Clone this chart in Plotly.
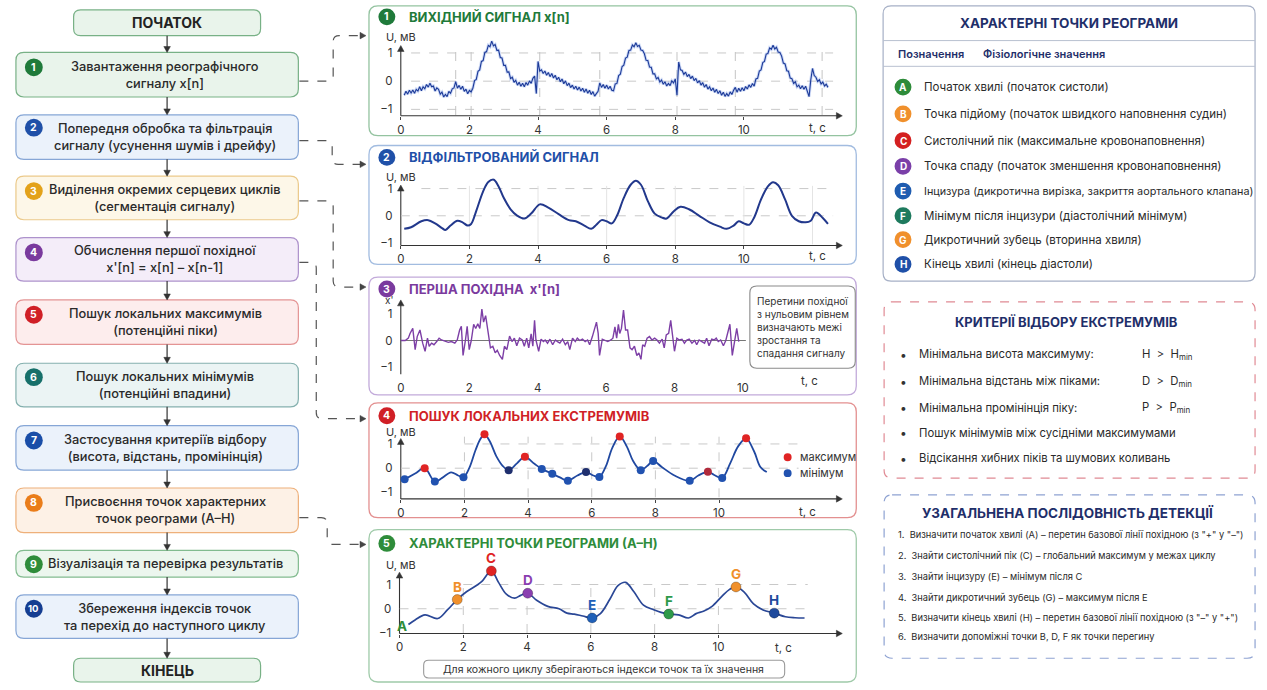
import numpy as np
import plotly.graph_objects as go

FONT = "Inter, Roboto, 'Noto Sans', sans-serif"
W, H = 1267, 690

# ---------------- data ----------------
# raw rheogram x[n], sampled at 20 Hz starting at 0.10 s
raw_start = 0.10
raw_fs = 20
x_raw = [
    -0.50, -0.36, -0.46, -0.32, -0.42, -0.31, -0.43, -0.29, -0.35, -0.20, -0.34, -0.20, -0.27, -0.12, -0.21, -0.07, -0.20, -0.17, -0.35, -0.24,
    -0.29, -0.46, -0.39, -0.56, -0.47, -0.55, -0.36, -0.43, -0.27, -0.24, -0.02, -0.25, -0.15, -0.29, -0.18, -0.36, -0.28, -0.45, -0.33, -0.38,
    -0.25, 0.02, 0.06, 0.35, 0.40, 0.70, 0.73, 1.02, 1.05, 1.27, 1.22, 1.42, 1.25, 1.30, 1.09, 1.10, 0.84, 0.82, 0.56, 0.56,
    0.32, 0.33, 0.09, 0.14, -0.04, 0.03, -0.14, -0.04, -0.18, -0.07, -0.20, -0.05, -0.14, 0.01, -0.08, 0.10, 0.18, -0.44, 0.70, 0.36,
    0.40, 0.27, 0.36, 0.21, 0.31, 0.16, 0.27, 0.11, 0.21, 0.05, 0.14, -0.02, 0.08, -0.09, 0.01, -0.16, -0.07, -0.23, -0.14, -0.28,
    -0.18, -0.31, -0.21, -0.35, -0.25, -0.39, -0.28, -0.43, -0.32, -0.47, -0.37, -0.53, -0.44, -0.36, -0.06, -0.22, -0.12, -0.25, -0.14, -0.28,
    -0.18, -0.32, -0.34, -0.10, -0.08, 0.20, 0.25, 0.52, 0.57, 0.82, 0.85, 1.09, 1.10, 1.28, 1.22, 1.36, 1.23, 1.27, 1.10, 1.09,
    0.97, 0.74, 0.73, 0.50, 0.49, 0.26, 0.26, 0.08, 0.13, -0.03, 0.04, -0.11, -0.02, -0.17, -0.08, -0.16, 0.01, -0.06, 0.08, -0.50,
    0.68, 0.40, 0.38, 0.24, 0.32, 0.16, 0.24, 0.09, 0.18, 0.02, 0.10, -0.06, 0.02, -0.14, -0.05, -0.21, -0.12, -0.28, -0.20, -0.34,
    -0.24, -0.39, -0.29, -0.44, -0.34, -0.50, -0.39, -0.54, -0.44, -0.53, -0.38, -0.47, -0.32, -0.22, -0.39, -0.25, -0.36, -0.23, -0.34, -0.19,
    -0.28, -0.13, -0.22, -0.08, -0.18, 0.08, 0.10, 0.36, 0.40, 0.66, 0.70, 0.96, 0.98, 1.18, 1.13, 1.27, 1.14, 1.20, 1.03, 1.02,
    0.89, 0.64, 0.61, 0.37, 0.35, 0.11, 0.09, -0.08, -0.02, -0.20, -0.14, -0.27, -0.16, -0.29, -0.18, -0.36, -0.55, 0.05, 0.45, 0.20,
    0.14, -0.01, 0.05, -0.10, -0.03, -0.17, -0.11, -0.22,
]
# segment boundary marks on the raw signal, s
raw_marks = [1.6, 2.05, 4.05, 5.8, 8.05, 9.75, 12.28]

# filtered signal
t_filt = [0.1, 0.3, 0.6, 0.8, 1.0, 1.2, 1.3, 1.45, 1.65, 1.8, 1.95, 2.05, 2.2, 2.4, 2.55, 2.7, 2.85, 3.0, 3.2, 3.4,
          3.6, 3.8, 4.05, 4.3, 4.6, 4.9, 5.1, 5.35, 5.55, 5.7, 5.85, 6.0, 6.15, 6.3, 6.5, 6.7, 6.85, 7.0, 7.2, 7.4,
          7.6, 7.75, 7.95, 8.15, 8.4, 8.7, 9.0, 9.3, 9.5, 9.7, 9.85, 10.0, 10.15, 10.3, 10.5, 10.7, 10.85, 11.0, 11.2, 11.4,
          11.6, 11.8, 11.95, 12.1, 12.3, 12.45]
u_filt = [-0.48, -0.42, -0.2, -0.16, -0.28, -0.45, -0.52, -0.36, -0.18, -0.24, -0.36, -0.3, 0.18, 0.9, 1.24, 1.33, 1.08, 0.66, 0.24, 0.0,
          -0.1, 0.08, 0.42, 0.3, 0.06, -0.16, -0.2, -0.36, -0.48, -0.33, -0.16, -0.2, -0.28, 0.0, 0.66, 1.14, 1.29, 1.14, 0.54, 0.08,
          -0.06, -0.1, 0.16, 0.33, 0.24, 0.0, -0.24, -0.4, -0.48, -0.36, -0.2, -0.28, -0.33, -0.06, 0.6, 1.08, 1.23, 1.12, 0.6, 0.0,
          -0.2, -0.24, -0.18, 0.12, -0.08, -0.3]

# first derivative x'[n]
t_der = [0.00, 0.13, 0.22, 0.27, 0.35, 0.42, 0.48, 0.56, 0.64, 0.71, 0.78, 0.83, 0.90, 0.97, 1.05, 1.12, 1.19, 1.29, 1.39, 1.48,
         1.58, 1.65, 1.72, 1.77, 1.82, 1.89, 1.94, 2.00, 2.06, 2.13, 2.19, 2.25, 2.31, 2.37, 2.42, 2.48, 2.55, 2.62, 2.69, 2.76,
         2.82, 2.89, 2.97, 3.03, 3.10, 3.18, 3.25, 3.32, 3.39, 3.47, 3.55, 3.61, 3.68, 3.74, 3.81, 3.86, 3.91, 3.95, 4.03, 4.10,
         4.17, 4.22, 4.29, 4.36, 4.44, 4.52, 4.58, 4.65, 4.73, 4.81, 4.88, 4.94, 5.02, 5.10, 5.16, 5.23, 5.31, 5.39, 5.46, 5.52,
         5.60, 5.66, 5.72, 5.77, 5.81, 5.89, 5.97, 6.05, 6.14, 6.20, 6.26, 6.31, 6.36, 6.40, 6.45, 6.51, 6.57, 6.63, 6.70, 6.76,
         6.83, 6.90, 6.96, 7.02, 7.07, 7.13, 7.20, 7.27, 7.34, 7.42, 7.49, 7.56, 7.64, 7.70, 7.76, 7.83, 7.89, 7.95, 8.00, 8.07,
         8.14, 8.22, 8.29, 8.36, 8.43, 8.51, 8.59, 8.65, 8.72, 8.80, 8.88, 8.94, 9.01, 9.09, 9.16, 9.22, 9.28, 9.35, 9.43, 9.50,
         9.55, 9.62, 9.69, 9.75, 9.82, 9.88]
d_der = [0.0, 0.0, 0.09, 0.27, 0.46, -0.35, 0.15, 0.4, -0.1, -0.41, 0.09, -0.22, -0.1, -0.16, -0.04, 0.09, 0.02, -0.04, -0.07, -0.04,
         -0.1, 0.02, 0.4, 0.54, -0.57, 0.02, 0.54, -0.35, 0.0, 0.62, 0.46, 0.64, 0.46, 1.2, 0.7, 0.95, 0.4, -0.28, -0.22, -0.47,
         -0.37, -0.57, -0.72, -0.22, -0.35, 0.17, -0.04, 0.09, -0.2, 0.09, 0.02, -0.22, 0.09, -0.28, 0.25, -0.22, 0.77, 0.02, -0.41, 0.05,
         -0.04, 0.02, -0.1, 0.05, -0.16, 0.02, -0.04, -0.1, 0.05, -0.16, -0.04, -0.35, 0.09, -0.04, 0.09, 0.0, 0.05, -0.04, 0.02, -0.16,
         0.15, 0.46, 0.7, 0.27, -0.57, 0.05, 0.0, -0.04, 0.02, 0.09, 0.52, 0.09, 0.62, 0.27, 0.46, 1.16, 0.4, 0.4, -0.28, -0.35,
         -0.22, -0.57, -0.47, -0.72, -0.16, -0.22, 0.09, 0.15, 0.02, 0.09, 0.02, -0.1, 0.05, -0.28, 0.21, 0.27, 0.77, 0.02, -0.41, 0.09,
         0.02, 0.05, -0.1, 0.02, 0.05, -0.1, 0.0, -0.16, 0.02, -0.04, -0.1, 0.09, -0.2, 0.05, 0.02, 0.09, -0.04, 0.02, -0.2, 0.0,
         0.27, 0.62, -0.57, -0.1, 0.46, -0.04]

# signal used for extremum search
t_ext = [0.12, 0.45, 0.75, 1.07, 1.3, 1.58, 1.8, 1.97, 2.15, 2.35, 2.5, 2.63, 2.8, 3.0, 3.2, 3.39, 3.65, 3.9, 4.2, 4.43,
         4.76, 5.0, 5.25, 5.55, 5.82, 6.05, 6.24, 6.45, 6.65, 6.88, 7.1, 7.3, 7.54, 7.75, 7.93, 8.2, 8.6, 9.08, 9.35, 9.65,
         9.85, 10.1, 10.35, 10.6, 10.85, 11.1, 11.3, 11.5]
u_ext = [-0.46, -0.22, 0.0, -0.55, -0.4, -0.17, -0.3, -0.37, 0.0, 0.75, 1.2, 1.4, 1.1, 0.5, 0.1, -0.08, 0.2, 0.47, 0.18, -0.03,
         -0.23, -0.38, -0.52, -0.3, -0.16, -0.3, -0.36, 0.1, 0.85, 1.31, 0.9, 0.3, -0.08, 0.1, 0.3, 0.05, -0.3, -0.52, -0.3, -0.15,
         -0.28, -0.4, 0.2, 0.9, 1.23, 0.7, 0.05, -0.16]
max_idx = [2, 11, 17, 29, 39, 44]
min_idx = [0, 3, 7, 15, 19, 20, 22, 24, 26, 32, 34, 37, 41]

# rheogram with characteristic points A-H
t_rheo = [0.28, 0.5, 0.8, 1.2, 1.5, 1.81, 2.1, 2.46, 2.6, 2.88, 3.1, 3.35, 3.61, 3.8, 4.02, 4.3, 4.65, 5.0, 5.25, 5.48,
          5.75, 6.04, 6.3, 6.6, 6.85, 7.09, 7.35, 7.65, 7.97, 8.2, 8.44, 8.75, 9.06, 9.3, 9.53, 9.8, 10.1, 10.35, 10.55, 10.8,
          11.1, 11.4, 11.75, 12.1, 12.4, 12.7]
u_rheo = [-0.65, -0.45, -0.25, -0.4, -0.05, 0.38, 0.7, 1.0, 1.15, 1.56, 1.1, 0.6, 0.44, 0.55, 0.64, 0.35, 0.1, 0.0, -0.18, -0.22,
          -0.3, -0.38, -0.2, 0.4, 0.95, 1.09, 0.7, 0.15, -0.04, -0.15, -0.22, -0.25, -0.38, -0.2, -0.1, 0.1, 0.5, 0.8, 0.9, 0.7,
          0.2, -0.05, -0.18, -0.33, -0.37, -0.38]
point_letters = ["A", "B", "C", "D", "E", "F", "G", "H"]
point_idx = [0, 5, 9, 14, 21, 30, 38, 42]

time_ticks = [0, 2, 4, 6, 8, 10]
amp_ticks = [-1, 0, 1]
amp_labels = ["−1", "0", "1"]

flow_start = "ПОЧАТОК"
flow_end = "КІНЕЦЬ"
flow_steps = [
    "Завантаження реографічного<br>сигналу x[n]",
    "Попередня обробка та фільтрація<br>сигналу (усунення шумів і дрейфу)",
    "Виділення окремих серцевих циклів<br>(сегментація сигналу)",
    "Обчислення першої похідної<br>x'[n] = x[n] – x[n-1]",
    "Пошук локальних максимумів<br>(потенційні піки)",
    "Пошук локальних мінімумів<br>(потенційні впадини)",
    "Застосування критеріїв відбору<br>(висота, відстань, промінінція)",
    "Присвоєння точок характерних<br>точок реограми (A–H)",
    "Візуалізація та перевірка результатів",
    "Збереження індексів точок<br>та перехід до наступного циклу",
]
panel_titles = [
    "ВИХІДНИЙ СИГНАЛ x[n]",
    "ВІДФІЛЬТРОВАНИЙ СИГНАЛ",
    "ПЕРША ПОХІДНА  x'[n]",
    "ПОШУК ЛОКАЛЬНИХ ЕКСТРЕМУМІВ",
    "ХАРАКТЕРНІ ТОЧКИ РЕОГРАМИ (A–H)",
]
legend_title = "ХАРАКТЕРНІ ТОЧКИ РЕОГРАМИ"
legend_head = ["Позначення", "Фізіологічне значення"]
legend_items = [
    "Початок хвилі (початок систоли)",
    "Точка підйому (початок швидкого наповнення судин)",
    "Систолічний пік (максимальне кровонаповнення)",
    "Точка спаду (початок зменшення кровонаповнення)",
    "Інцизура (дикротична вирізка, закриття аортального клапана)",
    "Мінімум після інцизури (діастолічний мінімум)",
    "Дикротичний зубець (вторинна хвиля)",
    "Кінець хвилі (кінець діастоли)",
]
crit_title = "КРИТЕРІЇ ВІДБОРУ ЕКСТРЕМУМІВ"
crit_items = [
    "Мінімальна висота максимуму:",
    "Мінімальна відстань між піками:",
    "Мінімальна промінінція піку:",
    "Пошук мінімумів між сусідніми максимумами",
    "Відсікання хибних піків та шумових коливань",
]
crit_rules = ["H  >  H<sub>min</sub>", "D  >  D<sub>min</sub>", "P  >  P<sub>min</sub>", "", ""]
seq_title = "УЗАГАЛЬНЕНА ПОСЛІДОВНІСТЬ ДЕТЕКЦІЇ"
seq_items = [
    "1.  Визначити початок хвилі (A) – перетин базової лінії похідною (з \"+\" у \"–\")",
    "2.  Знайти систолічний пік (C) – глобальний максимум у межах циклу",
    "3.  Знайти інцизуру (E) – мінімум після C",
    "4.  Знайти дикротичний зубець (G) – максимум після E",
    "5.  Визначити кінець хвилі (H) – перетин базової лінії похідною (з \"–\" у \"+\")",
    "6.  Визначити допоміжні точки B, D, F як точки перегину",
]
deriv_note = "Перетини похідної<br>з нульовим рівнем<br>визначають межі<br>зростання та<br>спадання сигналу"
store_note = "Для кожного циклу зберігаються індекси точок та їх значення"

# ---------------- helpers (pixel -> paper) ----------------
shapes, annotations = [], []


def X(x):
    return x / W


def Y(y):
    return 1 - y / H


def pt(x, y):
    return f"{X(x):.5f},{Y(y):.5f}"


def round_rect(x0, y0, x1, y1, r, fill, line, width=1.2, dash="solid"):
    p = (f"M {pt(x0 + r, y0)} L {pt(x1 - r, y0)} Q {pt(x1, y0)} {pt(x1, y0 + r)} "
         f"L {pt(x1, y1 - r)} Q {pt(x1, y1)} {pt(x1 - r, y1)} L {pt(x0 + r, y1)} "
         f"Q {pt(x0, y1)} {pt(x0, y1 - r)} L {pt(x0, y0 + r)} Q {pt(x0, y0)} {pt(x0 + r, y0)} Z")
    shapes.append(dict(type="path", path=p, xref="paper", yref="paper", fillcolor=fill,
                       line=dict(color=line, width=width, dash=dash), layer="below"))


def seg(x0, y0, x1, y1, color="#333", width=1.0, dash="solid"):
    shapes.append(dict(type="line", xref="paper", yref="paper", x0=X(x0), y0=Y(y0), x1=X(x1), y1=Y(y1),
                       line=dict(color=color, width=width, dash=dash), layer="below"))


def tri(x, y, direction, s=6, color="#333"):
    h = s * 0.55
    if direction == "right":
        pts = [(x, y), (x - s, y - h), (x - s, y + h)]
    elif direction == "up":
        pts = [(x, y), (x - h, y + s), (x + h, y + s)]
    else:
        pts = [(x, y), (x - h, y - s), (x + h, y - s)]
    p = "M " + " L ".join(pt(*q) for q in pts) + " Z"
    shapes.append(dict(type="path", path=p, xref="paper", yref="paper", fillcolor=color,
                       line=dict(color=color, width=0.5), layer="below"))


def dot(cx, cy, r, color, layer="below"):
    shapes.append(dict(type="circle", xref="paper", yref="paper", x0=X(cx - r), x1=X(cx + r),
                       y0=Y(cy + r), y1=Y(cy - r), fillcolor=color, line=dict(width=0), layer=layer))


def text(x, y, s, size=12, color="#333", weight=400, xanchor="center", yanchor="middle", align="center"):
    annotations.append(dict(x=X(x), y=Y(y), xref="paper", yref="paper", text=s, showarrow=False,
                            font=dict(size=size, color=color, family=FONT, weight=weight),
                            xanchor=xanchor, yanchor=yanchor, align=align))


def connector(points, r=6, color="#555"):
    d = f"M {pt(*points[0])}"
    for i in range(1, len(points) - 1):
        a, b, c = points[i - 1], points[i], points[i + 1]

        def toward(p, q, dist):
            dx, dy = q[0] - p[0], q[1] - p[1]
            n = (dx * dx + dy * dy) ** 0.5
            return (p[0] + dx / n * dist, p[1] + dy / n * dist)
        b1, b2 = toward(b, a, r), toward(b, c, r)
        d += f" L {pt(*b1)} Q {pt(*b)} {pt(*b2)}"
    d += f" L {pt(*points[-1])}"
    shapes.append(dict(type="path", path=d, xref="paper", yref="paper", fillcolor="rgba(0,0,0,0)",
                       line=dict(color=color, width=1.2, dash="dash"), layer="below"))
    ex, ey = points[-1]
    tri(ex + 6, ey, "right", 6, "#444")


# ---------------- flowchart ----------------
flow_style = [
    ("#e9f4eb", "#78b186", "#1f7a3a"),
    ("#ebf2fb", "#86a6d6", "#1f50a8"),
    ("#fdf7e8", "#ebc98a", "#e3a21a"),
    ("#f4edf9", "#ad92cc", "#7a3a9e"),
    ("#fdeded", "#e49494", "#d01f26"),
    ("#ebf4f4", "#84b0ae", "#17706a"),
    ("#ebf2fb", "#86a6d6", "#1a4ea8"),
    ("#fdf1e6", "#eeb07a", "#ea7d1a"),
    ("#ecf6ee", "#82bb8f", "#2e8c3a"),
    ("#ebf2fb", "#86a6d6", "#153e91"),
]
box_top = [53, 116, 178, 240, 303, 367, 430, 493, 556, 601]
box_bot = [98, 161, 222, 284, 348, 411, 475, 538, 583, 645]
badge_y = [68, 129, 193, 255, 318, 381, 445, 508, 570, 615]
BX0, BX1, AX = 12, 296, 164

round_rect(70, 10, 258, 36, 7, "#e9f4eb", "#78b186")
text(164, 23, f"<b>{flow_start}</b>", 14, "#222", 700)
round_rect(70, 665, 258, 689, 7, "#e9f4eb", "#78b186")
text(164, 677, f"<b>{flow_end}</b>", 14, "#222", 700)

prev_bot = 36
for i, label in enumerate(flow_steps):
    fill, border, badge = flow_style[i]
    round_rect(BX0, box_top[i], BX1, box_bot[i], 8, fill, border)
    seg(AX, prev_bot, AX, box_top[i] - 5, "#333", 1.2)
    tri(AX, box_top[i], "down", 6, "#333")
    prev_bot = box_bot[i]
    dot(30, badge_y[i], 9, badge)
    text(30, badge_y[i], f"<b>{i + 1}</b>", 10.5 if i < 9 else 9.5, "white", 700)
    ymid = (box_top[i] + box_bot[i]) / 2
    text(162, ymid, label, 12.8, "#2a2a2a", 500)
seg(AX, prev_bot, AX, 665 - 5, "#333", 1.2)
tri(AX, 665, "down", 6, "#333")

connector([(297, 82), (331, 82), (331, 36), (358, 36)])
connector([(297, 142), (330, 142), (330, 166), (358, 166)])
connector([(297, 203), (331, 203), (331, 290), (358, 290)])
connector([(297, 265), (314, 265), (314, 423), (358, 423)])
connector([(297, 523), (325, 523), (325, 550), (358, 550)])

# ---------------- signal panels ----------------
panel_box = [(6, 137), (147, 267), (280, 399), (407, 523), (535, 689)]
panel_line = ["#94c3a0", "#a2bce0", "#c2aada", "#e39090", "#9fcaa9"]
panel_color = ["#1f7a3a", "#1f50a8", "#7a3a9e", "#d01f26", "#2e8c3a"]
title_y = [17, 159, 292, 420, 549]
for k in range(5):
    y0, y1 = panel_box[k]
    round_rect(367, y0, 857, y1, 9, "white", panel_line[k], 1.3)
    dot(385, title_y[k], 8.5, panel_color[k])
    text(385, title_y[k], f"<b>{k + 1}</b>", 10.5, "white", 700)
    text(405, title_y[k], f"<b>{panel_titles[k]}</b>", 13, panel_color[k], 700, xanchor="left")

# pixel frames: (x of t=0, px per s, right edge, y of U=0, px per unit, bottom, top)
frames = [
    (399, 34.5, 845, 82, 28.5, 117, 38),
    (399, 34.5, 845, 218, 27.5, 248, 180),
    (399, 34.4, 746, 344, 26.5, 378, 300),
    (399, 32.0, 845, 473, 24.5, 504, 432),
    (397.7, 32.07, 845, 615, 24.5, 640, 560),
]
arrow_top = [46, 187, 303, 443, 578]

layout = dict(width=W, height=H, margin=dict(l=0, r=0, t=0, b=0), paper_bgcolor="white",
              plot_bgcolor="rgba(0,0,0,0)", showlegend=False, font=dict(family=FONT, color="#333"))

for k, (xz, xs, xe, yz, ys, yb, yt) in enumerate(frames):
    sfx = "" if k == 0 else str(k + 1)
    layout[f"xaxis{sfx}"] = dict(domain=[X(xz), X(xe)], range=[0, (xe - xz) / xs], anchor=f"y{sfx}",
                                 tickvals=time_ticks, ticks="outside", ticklen=3,
                                 tickcolor="#444" if k != 2 else "rgba(0,0,0,0)",
                                 showgrid=False, zeroline=False, showline=False,
                                 tickfont=dict(size=11.5, color="#333", family=FONT), fixedrange=True)
    layout[f"yaxis{sfx}"] = dict(domain=[Y(yb), Y(yt)], range=[(yz - yb) / ys, (yz - yt) / ys],
                                 anchor=f"x{sfx}", tickvals=amp_ticks, ticktext=amp_labels,
                                 ticks="outside", ticklen=5, tickcolor="rgba(0,0,0,0)",
                                 showgrid=False, zeroline=False, showline=False,
                                 tickfont=dict(size=11.5, color="#333", family=FONT), fixedrange=True)
    # axis lines with arrowheads
    seg(xz, yb if k != 2 else 378, xz, arrow_top[k] + 4, "#333", 1.1)
    tri(xz, arrow_top[k], "up", 6, "#333")
    if k != 2:
        seg(xz, yb, 838, yb, "#333", 1.1)
        tri(843, yb, "right", 6, "#333")

fig = go.Figure()


def guide(axis, x0, y0, x1, y1, color="#c9c9c9", dash="dash", width=1):
    sfx = "" if axis == 1 else str(axis)
    shapes.append(dict(type="line", xref=f"x{sfx}", yref=f"y{sfx}", x0=x0, y0=y0, x1=x1, y1=y1,
                       line=dict(color=color, width=width, dash=dash), layer="below"))


# panel 1: raw signal
for v in (1, 0, -1):
    guide(1, 0.3, v, 12.6, v)
for m in raw_marks:
    guide(1, m, -1.2, m, 1.3, "#c4c4c4", "dash")
t_raw = raw_start + np.arange(len(x_raw)) / raw_fs
fig.add_trace(go.Scatter(x=t_raw, y=x_raw, mode="lines", line=dict(color="rgba(90,130,225,0.30)", width=3.0),
                         xaxis="x", yaxis="y", hoverinfo="skip"))
fig.add_trace(go.Scatter(x=t_raw, y=x_raw, mode="lines", line=dict(color="#1c3a98", width=1.1),
                         xaxis="x", yaxis="y"))

# panel 2: filtered signal
guide(2, 0.6, 1, 12.6, 1)
guide(2, 0, 0, 12.6, 0)
for v in (2, 4, 6, 8, 10, 12):
    guide(2, v, -1.05, v, 1.1, "#e4e4e4", "solid")
fig.add_trace(go.Scatter(x=t_filt, y=u_filt, mode="lines", line=dict(color="#22388c", width=2, shape="spline", smoothing=1.0),
                         xaxis="x2", yaxis="y2"))

# panel 3: derivative
guide(3, 0, 0, 10.1, 0, "#777777", "solid", 1.2)
fig.add_trace(go.Scatter(x=t_der, y=d_der, mode="lines", line=dict(color="#7d3fa6", width=1.4),
                         xaxis="x3", yaxis="y3"))
round_rect(750, 289, 856, 372, 7, "white", "#8a8a8a", 1.1)
text(755, 330, deriv_note, 10, "#333", 400, xanchor="left", align="left")
text(387, 303, "x'", 10, "#333")
text(810, 385, "t, с", 11.5, "#333")

# panel 4: extrema
guide(4, 2.0, 1, 12.5, 1)
guide(4, 0, 0, 12.5, 0)
for v in (2, 4, 6, 8, 10):
    guide(4, v, -1.2, v, 1.3)
fig.add_trace(go.Scatter(x=t_ext, y=u_ext, mode="lines", line=dict(color="#2048a0", width=1.8, shape="spline", smoothing=1.0),
                         xaxis="x4", yaxis="y4"))
max_col = ["#e02424"] * len(max_idx)
max_col[4] = "#b02a3c"
min_col = ["#2152b0"] * len(min_idx)
min_col[3] = "#1f2f6e"
min_col[7] = "#1f2f6e"
fig.add_trace(go.Scatter(x=[t_ext[i] for i in max_idx], y=[u_ext[i] for i in max_idx], mode="markers",
                         marker=dict(size=8, color=max_col), cliponaxis=False, xaxis="x4", yaxis="y4"))
fig.add_trace(go.Scatter(x=[t_ext[i] for i in min_idx], y=[u_ext[i] for i in min_idx], mode="markers",
                         marker=dict(size=8, color=min_col), cliponaxis=False, xaxis="x4", yaxis="y4"))
dot(788, 462, 4, "#e02424")
text(798, 462, "максимум", 11, "#333", xanchor="left")
dot(788, 478, 4, "#2152b0")
text(798, 478, "мінімум", 11, "#333", xanchor="left")

# panel 5: characteristic points
guide(5, 2.0, 1, 12.8, 1)
guide(5, 0, 0, 12.8, 0)
for v in (2, 4, 6, 8, 10):
    guide(5, v, -1.0, v, 1.0)
fig.add_trace(go.Scatter(x=t_rheo, y=u_rheo, mode="lines", line=dict(color="#2a4796", width=1.7, shape="spline", smoothing=1.0),
                         xaxis="x5", yaxis="y5"))
pt_colors = ["#2e8c3a", "#f0902c", "#e02424", "#8a3fb0", "#2060b8", "#2e9a4a", "#f0902c", "#1f4a9c"]
fig.add_trace(go.Scatter(x=[t_rheo[i] for i in point_idx[1:]], y=[u_rheo[i] for i in point_idx[1:]], mode="markers",
                         marker=dict(size=10, color=pt_colors[1:], line=dict(color="rgba(0,0,0,0.25)", width=1)),
                         cliponaxis=False, xaxis="x5", yaxis="y5"))
for j, i in enumerate(point_idx):
    a = dict(x=t_rheo[i], y=u_rheo[i], xref="x5", yref="y5", text=f"<b>{point_letters[j]}</b>", showarrow=False,
             font=dict(size=13.5, color=pt_colors[j], family=FONT, weight=700))
    if j == 0:
        a.update(xshift=-6, yshift=-1)
    else:
        a.update(yshift=13)
    annotations.append(a)
round_rect(422, 667, 785, 685, 5, "white", "#9a9a9a", 1.1)
text(603, 676, store_note, 10.5, "#333")

# axis captions
for (lx, ly) in [(399, 37), (399, 179), (399, 436), (399, 571)]:
    text(lx, ly, "U, мВ", 11, "#333")
for (lx, ly) in [(818, 129), (818, 259), (808, 517), (784, 655)]:
    text(lx, ly, "t, с", 11.5, "#333")

# ---------------- right column ----------------
NAVY = "#1f2f6a"
round_rect(884, 6, 1258, 284, 8, "white", "#a6b0c6", 1.2)
text(1071, 23, f"<b>{legend_title}</b>", 13.5, NAVY, 700)
seg(884, 41, 1258, 41, "#b8c0d0", 1)
seg(884, 67, 1258, 67, "#b8c0d0", 1)
text(897, 55, legend_head[0], 11, NAVY, 600, xanchor="left")
text(982, 55, legend_head[1], 11, NAVY, 600, xanchor="left")
leg_y = [88, 115, 142, 168, 193, 218, 242, 267]
leg_col = ["#2e8c3a", "#f0902c", "#d42020", "#7a3fa8", "#1f5cb0", "#1e7a5e", "#f0902c", "#1f50a8"]
for j, s in enumerate(legend_items):
    dot(904, leg_y[j], 8.5, leg_col[j])
    text(904, leg_y[j], f"<b>{point_letters[j]}</b>", 10, "white", 700)
    text(923, leg_y[j], s, 11.5 if j != 4 else 10.8, "#2a2a2a", 400, xanchor="left")

round_rect(885, 305, 1258, 483, 8, "white", "#e08a94", 1.2, "dash")
text(1068, 325, f"<b>{crit_title}</b>", 13, NAVY, 700)
crit_y = [358, 385, 412, 437, 463]
for j, s in enumerate(crit_items):
    text(904, crit_y[j], "•", 12, "#333")
    text(918, crit_y[j], s, 11.3, "#2a2a2a", 400, xanchor="left")
    if crit_rules[j]:
        text(1142, crit_y[j], crit_rules[j], 11.3, "#2a2a2a", 400, xanchor="left")

round_rect(885, 500, 1258, 665, 8, "white", "#8ea2d2", 1.2, "dash")
text(1070, 518, f"<b>{seq_title}</b>", 13.5, NAVY, 700)
seq_y = [540, 561, 582, 604, 624, 643]
for j, s in enumerate(seq_items):
    text(897, seq_y[j], s, 9.3, "#2a2a2a", 400, xanchor="left")

layout["shapes"] = shapes
layout["annotations"] = annotations
fig.update_layout(**layout)
fig.write_html("out.html", config={"displayModeBar": False},
               post_script="document.body.style.margin='0';")
